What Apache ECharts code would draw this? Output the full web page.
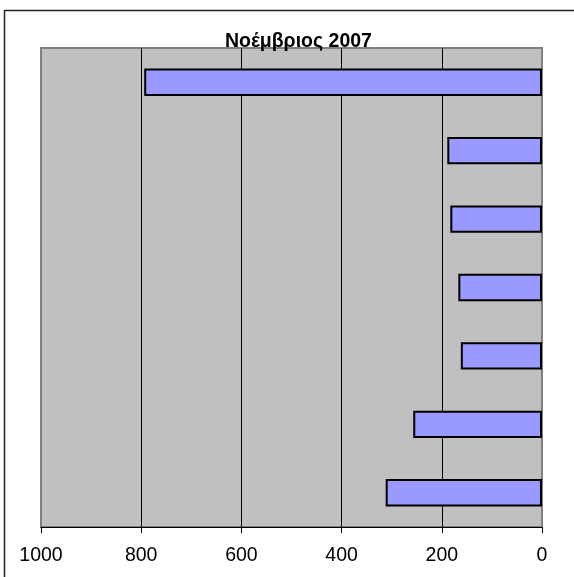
<!DOCTYPE html>
<html>
<head>
<meta charset="utf-8">
<script src="https://cdn.jsdelivr.net/npm/echarts@6/dist/echarts.min.js"></script>
<style>
html,body{margin:0;padding:0;background:#fff;}
#c{width:574px;height:577px;}
</style>
</head>
<body>
<div id="c"></div>
<script>
const titleText = 'Νοέμβριος 2007';
const categories = ['1', '2', '3', '4', '5', '6', '7'];
const values = [794, 189, 183, 167, 162, 257, 312];
const xTicks = [0, 200, 400, 600, 800, 1000];

const chart = echarts.init(document.getElementById('c'), null, {renderer: 'canvas'});
chart.setOption({
  backgroundColor: '#ffffff',
  animation: false,
  title: {
    text: titleText,
    left: 220,
    top: 27,
    textStyle: {fontFamily: 'Liberation Sans, Arial, sans-serif', fontWeight: 'bold', fontSize: 19.5, color: '#000'}
  },
  graphic: [{
    type: 'rect',
    z: -10,
    shape: {x: 4.5, y: 10.5, width: 700, height: 700},
    style: {fill: 'none', stroke: '#222', lineWidth: 1.5}
  }],
  grid: {
    left: 41, right: 32, top: 48, bottom: 50,
    show: true,
    backgroundColor: '#C0C0C0',
    borderColor: '#808080',
    borderWidth: 2
  },
  xAxis: {
    type: 'value',
    inverse: true,
    min: 0, max: 1000, interval: 200,
    axisLine: {show: true, lineStyle: {color: '#000', width: 1}},
    axisTick: {show: true, length: 6, lineStyle: {color: '#000'}},
    splitLine: {show: true, showMinLine: false, showMaxLine: false, lineStyle: {color: '#000', width: 1}},
    axisLabel: {
      fontFamily: 'Liberation Sans, Arial, sans-serif', fontSize: 19.5, color: '#000', margin: 19,
      formatter: function (v) { return xTicks.indexOf(v) >= 0 ? String(v) : ''; }
    }
  },
  yAxis: {
    type: 'category',
    inverse: true,
    position: 'right',
    data: categories,
    axisLine: {show: false},
    axisTick: {show: false},
    axisLabel: {show: false},
    splitLine: {show: false}
  },
  series: [{
    type: 'bar',
    data: values,
    barWidth: '40%',
    itemStyle: {color: '#9999FF', borderColor: '#000', borderWidth: 2}
  }]
});
</script>
</body>
</html>
